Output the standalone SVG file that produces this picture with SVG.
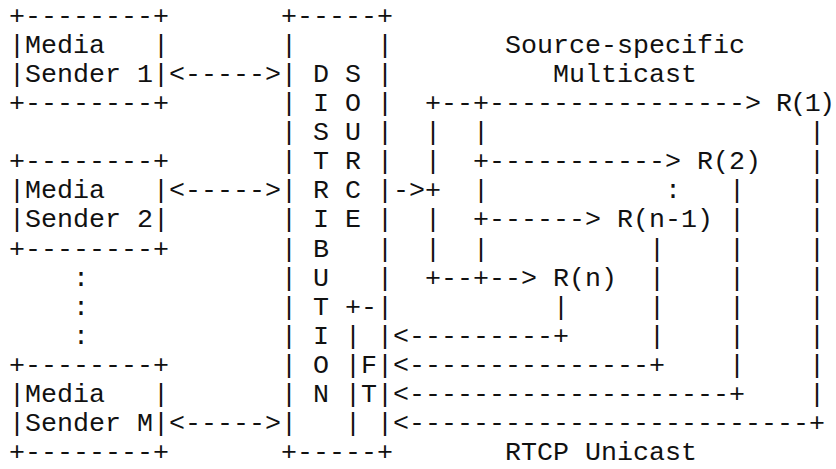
<svg xmlns="http://www.w3.org/2000/svg" width="836" height="469" viewBox="0 0 836 469" xml:space="preserve">
  <style>
    /* character grid: 16px columns (x = 9 + 16*col), ~29.13px rows (baseline = 23.5 + 29.13*row) */
    text { font-family: "Liberation Mono", "Courier New", monospace; font-size: 26.667px; fill: #111; white-space: pre; }
  </style>
  <rect width="836" height="469" fill="#fff"/>

  <!-- media senders -->
  <g id="sender-1">
    <text x="9" y="23.5">+--------+</text>
    <text x="9" y="52.63">|Media   |</text>
    <text x="9" y="81.76">|Sender 1|</text>
    <text x="9" y="110.89">+--------+</text>
  </g>
  <g id="sender-2">
    <text x="9" y="169.15">+--------+</text>
    <text x="9" y="198.28">|Media   |</text>
    <text x="9" y="227.41">|Sender 2|</text>
    <text x="9" y="256.54">+--------+</text>
  </g>
  <g id="more-senders">
    <text x="73" y="285.67">:</text>
    <text x="73" y="314.8">:</text>
    <text x="73" y="343.93">:</text>
  </g>
  <g id="sender-m">
    <text x="9" y="373.06">+--------+</text>
    <text x="9" y="402.19">|Media   |</text>
    <text x="9" y="431.32">|Sender M|</text>
    <text x="9" y="460.45">+--------+</text>
  </g>

  <!-- distribution source with its feedback target -->
  <g id="distribution-source">
    <text x="281" y="23.5">+-----+</text>
    <text x="281" y="52.63">|     |</text>
    <text x="281" y="81.76">| D S |</text>
    <text x="281" y="110.89">| I O |</text>
    <text x="281" y="140.02">| S U |</text>
    <text x="281" y="169.15">| T R |</text>
    <text x="281" y="198.28">| R C |</text>
    <text x="281" y="227.41">| I E |</text>
    <text x="281" y="256.54">| B   |</text>
    <text x="281" y="285.67">| U   |</text>
    <text x="281" y="314.8">| T +-|</text>
    <text x="281" y="343.93">| I | |</text>
    <text x="281" y="373.06">| O |F|</text>
    <text x="281" y="402.19">| N |T|</text>
    <text x="281" y="431.32">|   | |</text>
    <text x="281" y="460.45">+-----+</text>
  </g>

  <!-- receivers -->
  <g id="receiver-1"><text x="776" y="110.89" textLength="59" lengthAdjust="spacing">R(1)</text></g>
  <g id="receiver-2"><text x="697" y="169.15">R(2)</text></g>
  <g id="receiver-more"><text x="665" y="198.28">:</text></g>
  <g id="receiver-n-1"><text x="617" y="227.41">R(n-1)</text></g>
  <g id="receiver-n"><text x="553" y="285.67">R(n)</text></g>

  <!-- labels -->
  <g id="labels">
    <text x="505" y="52.63">Source-specific</text>
    <text x="553" y="81.76">Multicast</text>
    <text x="505" y="460.45">RTCP Unicast</text>
  </g>

  <g id="connectors">
    <!-- senders to distribution source -->
    <text x="169" y="81.76">&lt;-----&gt;</text>
    <text x="169" y="198.28">&lt;-----&gt;</text>
    <text x="169" y="431.32">&lt;-----&gt;</text>

    <!-- source-specific multicast tree -->
    <text x="393" y="198.28">-&gt;+</text>
    <text x="425" y="110.89">+--+----------------&gt;</text>
    <text x="425" y="140.02">|  |</text>
    <text x="425" y="169.15">|  +-----------&gt;</text>
    <text x="473" y="198.28">|</text>
    <text x="425" y="227.41">|  +------&gt;</text>
    <text x="425" y="256.54">|  |</text>
    <text x="425" y="285.67">+--+--&gt;</text>

    <!-- unicast feedback: R(1) -->
    <text x="809" y="140.02">|</text>
    <text x="809" y="169.15">|</text>
    <text x="809" y="198.28">|</text>
    <text x="809" y="227.41">|</text>
    <text x="809" y="256.54">|</text>
    <text x="809" y="285.67">|</text>
    <text x="809" y="314.8">|</text>
    <text x="809" y="343.93">|</text>
    <text x="809" y="373.06">|</text>
    <text x="809" y="402.19">|</text>
    <text x="393" y="431.32">&lt;-------------------------+</text>

    <!-- unicast feedback: R(2) -->
    <text x="729" y="198.28">|</text>
    <text x="729" y="227.41">|</text>
    <text x="729" y="256.54">|</text>
    <text x="729" y="285.67">|</text>
    <text x="729" y="314.8">|</text>
    <text x="729" y="343.93">|</text>
    <text x="729" y="373.06">|</text>
    <text x="393" y="402.19">&lt;--------------------+</text>

    <!-- unicast feedback: R(n-1) -->
    <text x="649" y="256.54">|</text>
    <text x="649" y="285.67">|</text>
    <text x="649" y="314.8">|</text>
    <text x="649" y="343.93">|</text>
    <text x="393" y="373.06">&lt;---------------+</text>

    <!-- unicast feedback: R(n) -->
    <text x="553" y="314.8">|</text>
    <text x="393" y="343.93">&lt;---------+</text>
  </g>
</svg>
